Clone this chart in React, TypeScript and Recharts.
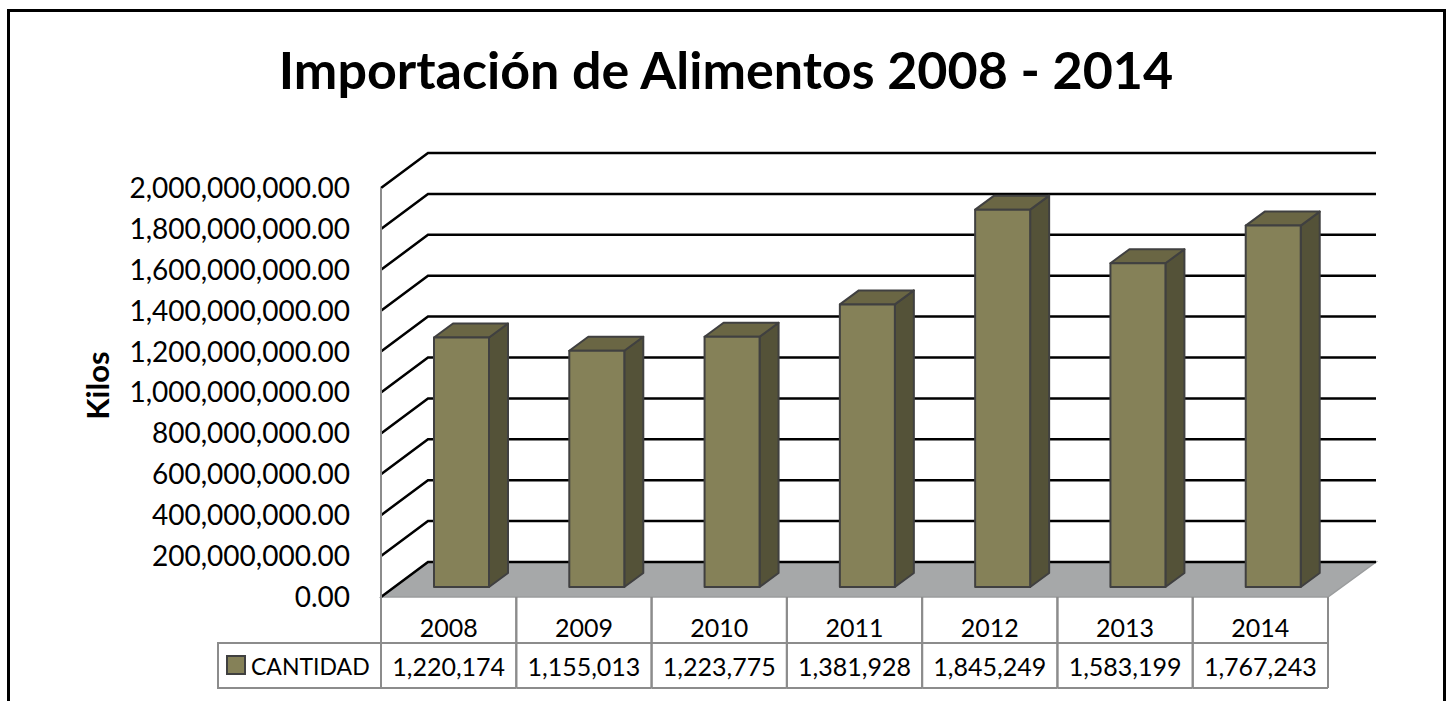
import React from "react";
import { BarChart, Bar, XAxis, YAxis, CartesianGrid } from "recharts";

const years = ["2008", "2009", "2010", "2011", "2012", "2013", "2014"];
// table values (toneladas) -> bar drawn in kilos
const cantidad = [1220174, 1155013, 1223775, 1381928, 1845249, 1583199, 1767243];
const yTicks = [0, 200000000, 400000000, 600000000, 800000000, 1000000000, 1200000000, 1400000000, 1600000000, 1800000000, 2000000000];

const data = years.map((year, i) => ({ year, cantidad: cantidad[i], kilos: cantidad[i] * 1000 }));

const W = 1448;
const H = 701;
const M_TOP = 188;
const M_RIGHT = 120;
const Y_AXIS_W = 381;
const X_AXIS_H = 104;
const PLOT_BOTTOM = H - X_AXIS_H;
const BAND = (W - M_RIGHT - Y_AXIS_W) / years.length;

// 3D look
const WALL_DX = 47;
const WALL_DY = 35;
const BAR_OX = 13;
const BAR_OY = 10;
const BAR_DX = 19;
const BAR_DY = 14;

const FONT = "Lato, 'Open Sans', sans-serif";
const FRONT = "#858158";
const TOP = "#6a6644";
const SIDE = "#545238";
const EDGE = "#404040";
const TABLE_LINE = "#8c8c8c";

const fmtAxis = (v: number) =>
  v.toLocaleString("en-US", { minimumFractionDigits: 2, maximumFractionDigits: 2 });

function gridLine(p: any) {
  const { x1, y1, x2, key } = p;
  const isFloor = Math.abs(y1 - PLOT_BOTTOM) < 1;
  const pts = `${x1},${y1} ${x1 + WALL_DX},${y1 - WALL_DY} ${x2 + WALL_DX + 1},${y1 - WALL_DY}`;
  return (
    <g key={key}>
      {isFloor && (
        <polygon
          points={`${x1},${y1} ${x1 + WALL_DX},${y1 - WALL_DY} ${x2 + WALL_DX + 1},${y1 - WALL_DY} ${x2},${y1}`}
          fill="#a6a8a9"
          stroke="#9a9c9d"
          strokeWidth={1.5}
        />
      )}
      <polyline points={pts} fill="none" stroke="#000" strokeWidth={2.5} />
    </g>
  );
}

function Bar3D(props: any) {
  const { x, y, width, height } = props;
  if (height == null || width == null) return null;
  const fx = x + BAR_OX;
  const fy = y - BAR_OY;
  const b = fy + height;
  return (
    <g stroke={EDGE} strokeWidth={2} strokeLinejoin="round">
      <polygon
        points={`${fx + width},${fy} ${fx + width + BAR_DX},${fy - BAR_DY} ${fx + width + BAR_DX},${b - BAR_DY} ${fx + width},${b}`}
        fill={SIDE}
      />
      <polygon
        points={`${fx},${fy} ${fx + BAR_DX},${fy - BAR_DY} ${fx + width + BAR_DX},${fy - BAR_DY} ${fx + width},${fy}`}
        fill={TOP}
      />
      <rect x={fx} y={fy} width={width} height={height} fill={FRONT} />
    </g>
  );
}

function TableTick(props: any) {
  const { x, y, payload, index } = props;
  const left = x - BAND / 2;
  const right = x + BAND / 2;
  const mid = y + 46;
  const bottom = y + 91;
  const row = data[index];
  return (
    <g fontFamily={FONT} fontSize={25} fill="#000">
      <line x1={left} y1={y} x2={left} y2={bottom} stroke={TABLE_LINE} strokeWidth={2} />
      <line x1={right} y1={y} x2={right} y2={bottom} stroke={TABLE_LINE} strokeWidth={2} />
      <line x1={left} y1={mid} x2={right} y2={mid} stroke={TABLE_LINE} strokeWidth={2} />
      <line x1={left} y1={bottom} x2={right} y2={bottom} stroke={TABLE_LINE} strokeWidth={2} />
      <text x={x} y={y + 30} textAnchor="middle" dominantBaseline="central" stroke="none" fill="#000">
        {payload.value}
      </text>
      <text x={x} y={mid + 23} textAnchor="middle" dominantBaseline="central" stroke="none" fill="#000">
        {row ? row.cantidad.toLocaleString("en-US") : ""}
      </text>
      {index === 0 && (
        <g>
          <rect x={left - 163} y={mid} width={163} height={bottom - mid} fill="none" stroke={TABLE_LINE} strokeWidth={2} />
          <rect x={left - 154} y={mid + 13} width={18} height={18} fill={FRONT} stroke={EDGE} strokeWidth={2} />
          <text x={left - 130} y={mid + 23} fontSize={23} dominantBaseline="central" stroke="none" fill="#000">
            CANTIDAD
          </text>
        </g>
      )}
    </g>
  );
}

function KilosLabel() {
  const cy = (M_TOP + PLOT_BOTTOM) / 2 - 7;
  return (
    <text
      x={97}
      y={cy}
      transform={`rotate(-90 97 ${cy})`}
      textAnchor="middle"
      dominantBaseline="central"
      fontFamily={FONT}
      fontWeight={700}
      fontSize={31}
      fill="#000"
    >
      Kilos
    </text>
  );
}

export default function App() {
  return (
    <div style={{ position: "absolute", left: 0, top: 0, width: W, height: H, overflow: "hidden", background: "#fff", fontFamily: FONT }}>
      <div
        style={{
          position: "absolute",
          left: 7,
          top: 9,
          width: 1439,
          height: 760,
          border: "3px solid #000",
          boxSizing: "border-box",
        }}
      />
      <div
        style={{
          position: "absolute",
          left: 0,
          width: 1452,
          top: 33,
          textAlign: "center",
          fontFamily: FONT,
          fontWeight: 700,
          fontSize: 52,
          lineHeight: "72px",
          color: "#000",
        }}
      >
        Importación de Alimentos 2008 - 2014
      </div>
      <div style={{ position: "absolute", left: 0, top: 0 }}>
        <BarChart width={W} height={H} data={data} margin={{ top: M_TOP, right: M_RIGHT, bottom: 0, left: 0 }}>
          <CartesianGrid vertical={false} horizontal={gridLine} />
          <XAxis
            dataKey="year"
            height={X_AXIS_H}
            axisLine={false}
            tickLine={false}
            tickSize={0}
            tickMargin={0}
            interval={0}
            tick={(p: any) => <TableTick {...p} />}
          />
          <YAxis
            width={Y_AXIS_W}
            domain={[0, 2000000000]}
            ticks={yTicks}
            interval={0}
            tickLine={false}
            tickSize={0}
            tickMargin={31}
            axisLine={{ stroke: "#8c8c8c", strokeWidth: 2 }}
            tick={{ fill: "#000", fontSize: 28, fontFamily: FONT }}
            tickFormatter={fmtAxis}
            label={{ content: KilosLabel }}
          />
          <Bar dataKey="kilos" barSize={55} shape={(p: any) => <Bar3D {...p} />} isAnimationActive={false} />
        </BarChart>
      </div>
    </div>
  );
}
